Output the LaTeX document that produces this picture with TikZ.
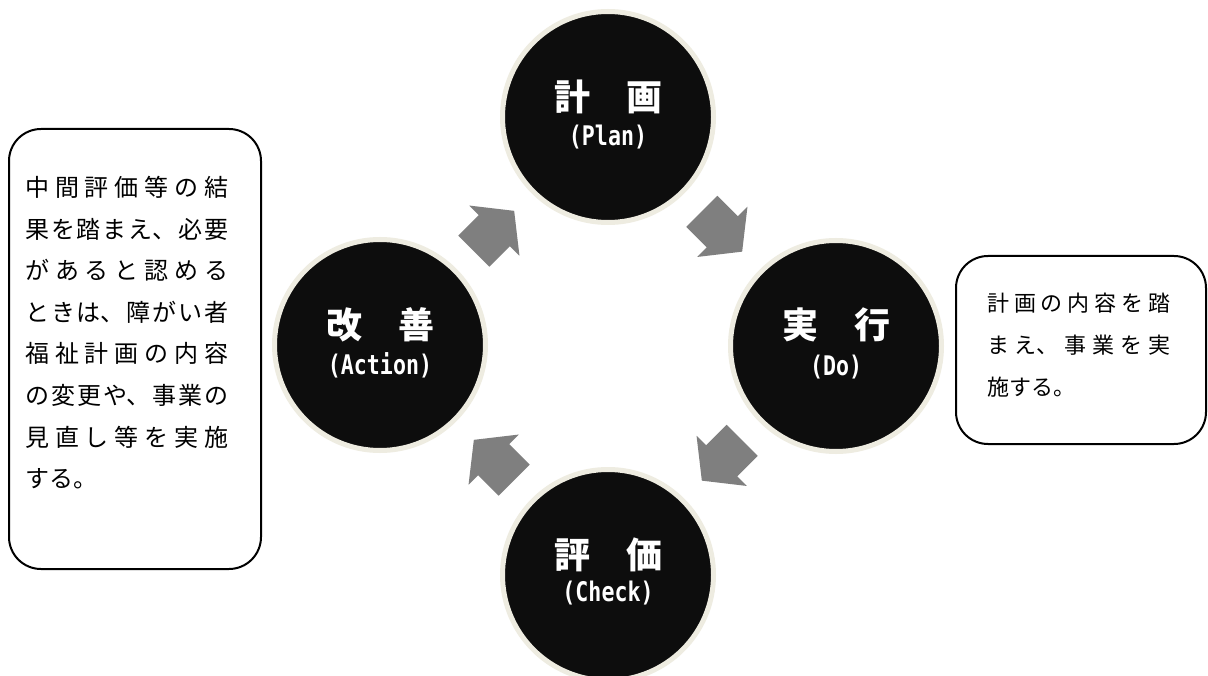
\documentclass[tikz,border=0pt]{standalone}
\usepackage{fontspec}
\newfontfamily\jpfont{Noto Sans CJK JP}
\newfontfamily\subfont[FakeStretch=0.8]{DejaVu Sans Mono}
\XeTeXlinebreaklocale "ja"
\XeTeXlinebreakskip=0pt plus 20pt
\usetikzlibrary{calc}
\definecolor{circfill}{HTML}{0D0D0D}
\definecolor{rim}{HTML}{EEECE1}
\definecolor{arrowgray}{HTML}{7F7F7F}
\newcommand\cyclearrow[3]{%
  \begin{scope}[shift={($(#1)!0.5!(#2)$)}, rotate=#3]
    \fill[arrowgray] (-28.5,-22) -- (0.5,-22) -- (0.5,-35.5) -- (28.5,0)
      -- (0.5,35.5) -- (0.5,22) -- (-28.5,22) -- cycle;
  \end{scope}}
\begin{document}
\begin{tikzpicture}[x=1pt,y=-1pt,
  phase/.style={circle, fill=circfill, draw=rim, line width=5pt, minimum size=211pt, inner sep=0pt},
  ptitle/.style={text=white, font=\jpfont\bfseries\fontsize{36}{40}\selectfont, inner sep=0pt},
  psub/.style={text=white, font=\subfont\bfseries\fontsize{27}{30}\selectfont, inner sep=0pt},
  note/.style={draw=black, line width=2pt, rounded corners=32pt, fill=white, inner sep=0pt},
  notetextL/.style={anchor=north west, text width=203pt, align=justify, inner sep=0pt, font=\jpfont\fontsize{24}{41.6}\selectfont},
  notetextR/.style={anchor=north west, text width=183pt, align=justify, inner sep=0pt, font=\jpfont\fontsize{22}{42}\selectfont}]
\clip (0,0) rectangle (1208,676);
\fill[white] (0,0) rectangle (1208,676);

% phases
\node[phase] (plan) at (608,117) {};
\node[phase] (do) at (836,346) {};
\node[phase] (check) at (608,575) {};
\node[phase] (act) at (380,345) {};

\node[ptitle] (planT) at ([yshift=20pt]plan.center) {計　画};
\node[psub] (planS) at ([yshift=-20pt]plan.center) {(Plan)};
\node[ptitle] (doT) at ([yshift=21pt]do.center) {実　行};
\node[psub] (doS) at ([yshift=-21pt]do.center) {(Do)};
\node[ptitle] (checkT) at ([yshift=20pt]check.center) {評　価};
\node[psub] (checkS) at ([yshift=-18pt]check.center) {(Check)};
\node[ptitle] (actT) at ([yshift=20pt]act.center) {改　善};
\node[psub] (actS) at ([yshift=-20pt]act.center) {(Action)};

% arrows
\cyclearrow{act}{plan}{45}
\cyclearrow{plan}{do}{-45}
\cyclearrow{do}{check}{-135}
\cyclearrow{check}{act}{135}

% notes
\node[note, minimum width=252pt, minimum height=440pt] (lbox) at (135,349) {};
\node[notetextL] (ltext) at (25,176) {中間評価等の結\linebreak 果を踏まえ、必要\linebreak があると認める\linebreak ときは、障がい者\linebreak 福祉計画の内容\linebreak の変更や、事業の\linebreak 見直し等を実施\linebreak する。};
\node[note, minimum width=250pt, minimum height=188pt] (rbox) at (1081,350) {};
\node[notetextR] (rtext) at (987,293) {計画の内容を踏\linebreak まえ、事業を実\linebreak 施する。};
\end{tikzpicture}
\end{document}
